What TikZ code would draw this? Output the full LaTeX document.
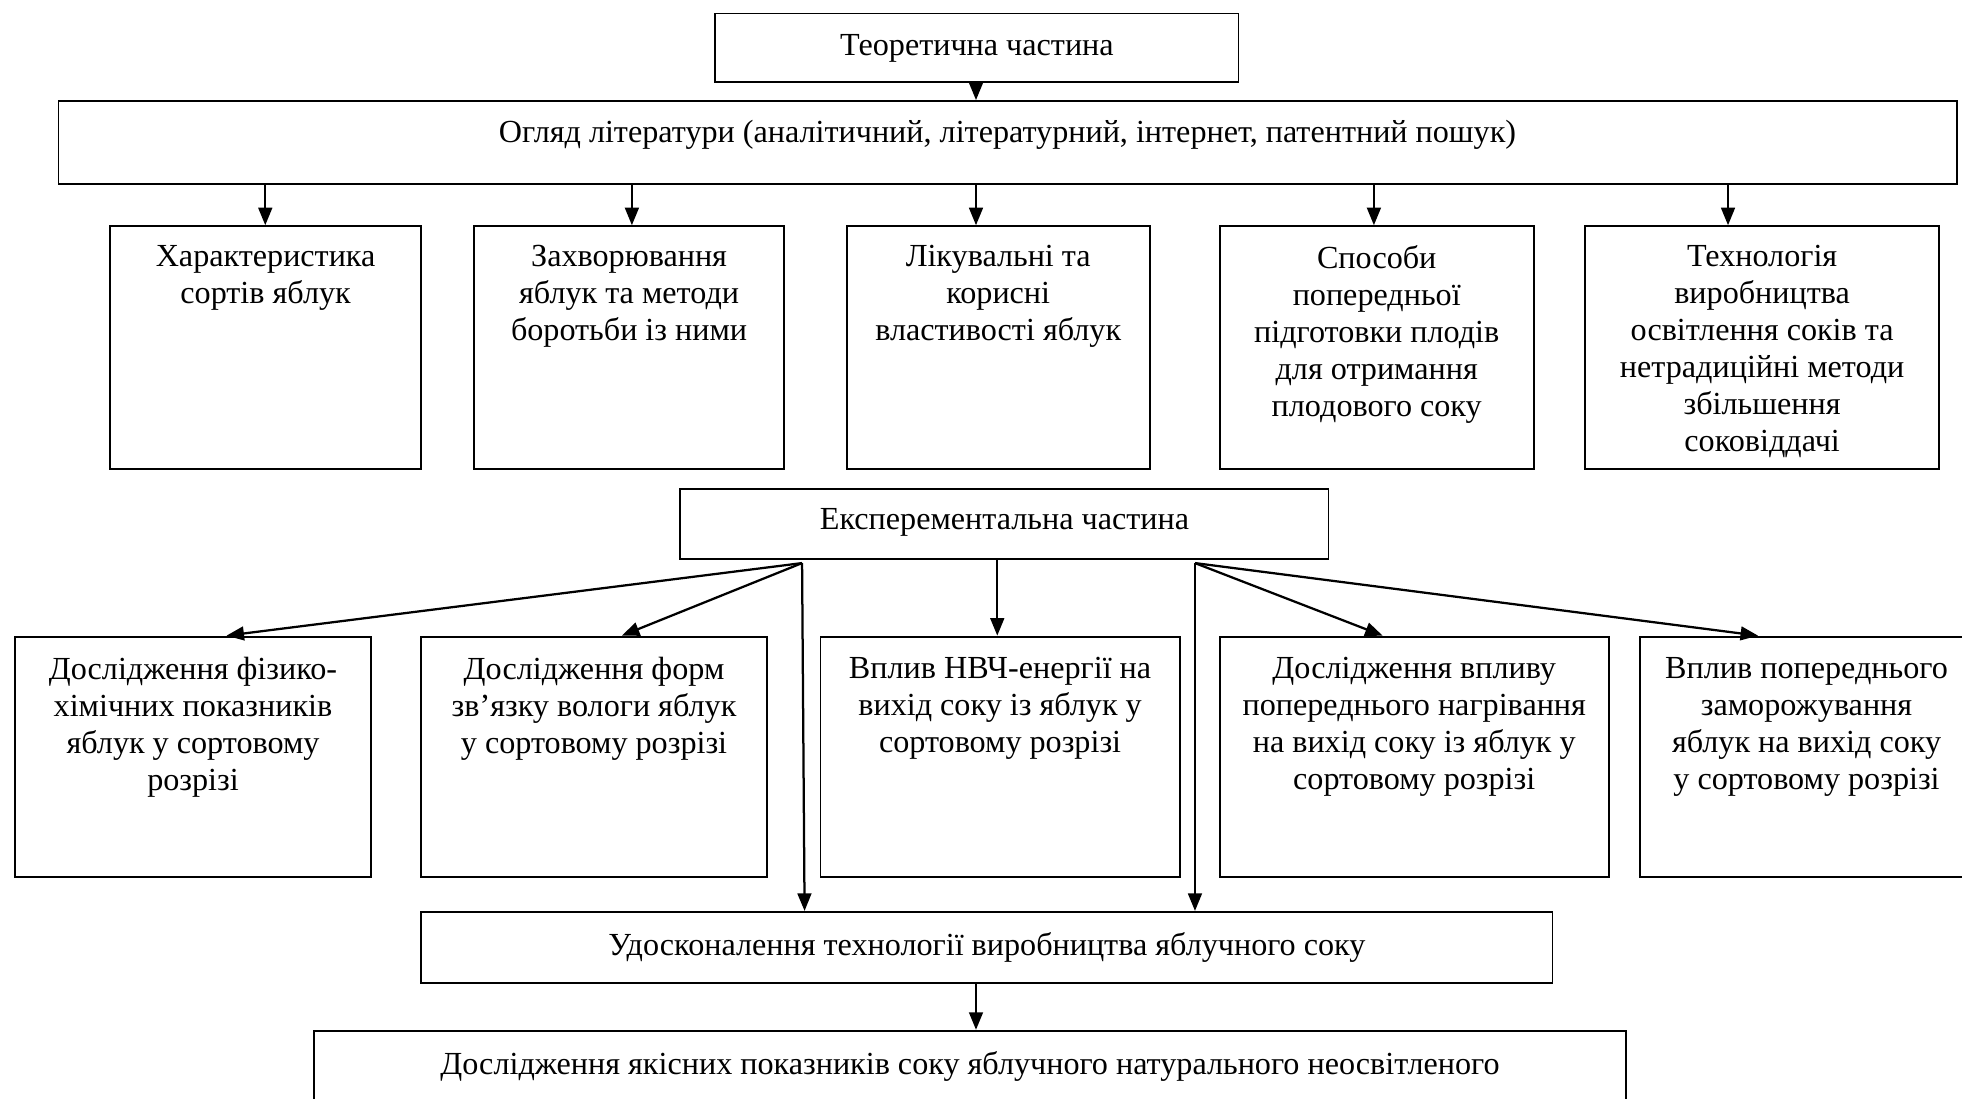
\documentclass[tikz,border=0pt]{standalone}
\usepackage{fontspec}
\setmainfont{Liberation Serif}
\usetikzlibrary{arrows.meta}
\tikzset{
  box/.style={draw, line width=1.5pt, rectangle, anchor=north west, inner sep=0pt},
  txt/.style={anchor=north, align=center, inner sep=0pt, font=\fontsize{25.7}{29.6}\selectfont},
  arr/.style={line width=1.8pt, -{Triangle[length=14pt,width=11pt]}},
}
\begin{document}
\begin{tikzpicture}[x=1pt,y=-1pt]
\useasboundingbox (0,0) rectangle (1568,878);
% top
\node[box, minimum width=418pt, minimum height=55pt] (top) at (571,10) {};
\node[txt] (topt) at ([yshift=-17pt]top.north) {Теоретична частина};
\node[box, minimum width=1517pt, minimum height=66pt] (og) at (46,80) {};
\node[txt] (ogt) at ([yshift=-16pt]og.north) {Огляд літератури (аналітичний, літературний, інтернет, патентний пошук)};
% row 1
\node[box, minimum width=249pt, minimum height=194pt] (b1) at (87,180) {};
\node[box, minimum width=248pt, minimum height=194pt] (b2) at (378,180) {};
\node[box, minimum width=242pt, minimum height=194pt] (b3) at (676,180) {};
\node[box, minimum width=251pt, minimum height=194pt] (b4) at (974,180) {};
\node[box, minimum width=283pt, minimum height=194pt] (b5) at (1266,180) {};
\node[txt] (b1t) at ([yshift=-16pt]b1.north) {Характеристика\\сортів яблук};
\node[txt] (b2t) at ([yshift=-16pt]b2.north) {Захворювання\\яблук та методи\\боротьби із ними};
\node[txt] (b3t) at ([yshift=-16pt]b3.north) {Лікувальні та\\корисні\\властивості яблук};
\node[txt] (b4t) at ([yshift=-16pt]b4.north) {Способи\\попередньої\\підготовки плодів\\для отримання\\плодового соку};
\node[txt] (b5t) at ([yshift=-16pt]b5.north) {Технологія\\виробництва\\освітлення соків та\\нетрадиційні методи\\збільшення\\соковіддачі};
% experimental
\node[box, minimum width=518pt, minimum height=56pt] (ex) at (543,390) {};
\node[txt] (ext) at ([yshift=-16pt]ex.north) {Експерементальна частина};
% row 2
\node[box, minimum width=285pt, minimum height=192pt] (c1) at (11,508) {};
\node[box, minimum width=276pt, minimum height=192pt] (c2) at (336,508) {};
\node[box, minimum width=287pt, minimum height=192pt] (c3) at (655,508) {};
\node[box, minimum width=311pt, minimum height=192pt] (c4) at (974,508) {};
\node[box, minimum width=266pt, minimum height=192pt] (c5) at (1310,508) {};
\node[txt] (c1t) at ([yshift=-17pt]c1.north) {Дослідження фізико-\\хімічних показників\\яблук у сортовому\\розрізі};
\node[txt] (c2t) at ([yshift=-17pt]c2.north) {Дослідження форм\\зв’язку вологи яблук\\у сортовому розрізі};
\node[txt] (c3t) at ([yshift=-17pt]c3.north) {Вплив НВЧ-енергії на\\вихід соку із яблук у\\сортовому розрізі};
\node[txt] (c4t) at ([yshift=-17pt]c4.north) {Дослідження впливу\\попереднього нагрівання\\на вихід соку із яблук у\\сортовому розрізі};
\node[txt] (c5t) at ([yshift=-17pt]c5.north) {Вплив попереднього\\заморожування\\яблук на вихід соку\\у сортовому розрізі};
% bottom
\node[box, minimum width=904pt, minimum height=57pt] (ud) at (336,728) {};
\node[txt] (udt) at ([yshift=-17pt]ud.north) {Удосконалення технології виробництва яблучного соку};
\node[box, minimum width=1049pt, minimum height=80pt] (ds) at (250,823) {};
\node[txt] (dst) at ([yshift=-17pt]ds.north) {Дослідження якісних показників соку яблучного натурального неосвітленого};
% coordinates
\coordinate (xm) at (780,0);
\coordinate (x1) at (212,0);
\coordinate (x2) at (505,0);
\coordinate (x4) at (1098,0);
\coordinate (x5) at (1381,0);
\coordinate (fl) at (641,450);
\coordinate (fr) at (955,450);
\coordinate (e1) at (181,0);
\coordinate (e2) at (497,0);
\coordinate (e3) at (797,0);
\coordinate (e4) at (1105,0);
\coordinate (e5) at (1405,0);
\coordinate (vl) at (643,0);
% arrows
\draw[arr] (top.south -| xm) -- (og.north -| xm);
\draw[arr] (og.south -| x1) -- (b1.north -| x1);
\draw[arr] (og.south -| x2) -- (b2.north -| x2);
\draw[arr] (og.south -| xm) -- (b3.north -| xm);
\draw[arr] (og.south -| x4) -- (b4.north -| x4);
\draw[arr] (og.south -| x5) -- (b5.north -| x5);
\draw[arr] (fl) -- (c1.north -| e1);
\draw[arr] (fl) -- (c2.north -| e2);
\draw[arr] (fl) -- (ud.north -| vl);
\draw[arr] (ex.south -| e3) -- (c3.north -| e3);
\draw[arr] (fr) -- (c4.north -| e4);
\draw[arr] (fr) -- (c5.north -| e5);
\draw[arr] (fr) -- (ud.north -| fr);
\draw[arr] (ud.south -| xm) -- (ds.north -| xm);
\end{tikzpicture}
\end{document}
